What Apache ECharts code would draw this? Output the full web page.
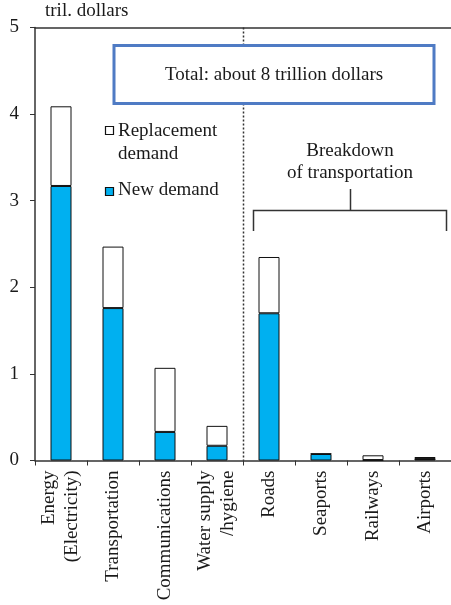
<!DOCTYPE html>
<html><head><meta charset="utf-8">
<script src="https://cdn.jsdelivr.net/npm/echarts@6/dist/echarts.min.js"></script>
<style>html,body{margin:0;padding:0;background:#fff}#c{width:451px;height:605px}</style>
</head><body><div id="c"></div>
<script>
var categories = ['Energy\n(Electricity)', 'Transportation', 'Communications', 'Water supply\n/hygiene', 'Roads', 'Seaports', 'Railways', 'Airports'];
var newDemand = [3.17, 1.76, 0.33, 0.17, 1.70, 0.075, 0.005, 0.03];
var replacementDemand = [0.92, 0.71, 0.74, 0.23, 0.65, 0.005, 0.055, 0.008];
var yTicks = [0, 1, 2, 3, 4, 5];
var unitLabel = 'tril. dollars';
var totalText = 'Total: about 8 trillion dollars';
var legendNew = 'New demand';
var legendRep = 'Replacement\ndemand';
var breakdownText = 'Breakdown\nof transportation';

var serif = '"Liberation Serif", "DejaVu Serif", serif';
var FS = 19;
var chart = echarts.init(document.getElementById('c'), null, {renderer: 'canvas'});
var newData = newDemand.map(function (v, i) {
  return i === 7 ? {value: v, itemStyle: {color: '#111'}} : v;
});
var option = {
  animation: false,
  grid: {left: 35, right: 0, top: 27.5, bottom: 144.5, containLabel: false},
  xAxis: [{
    type: 'category', data: categories, position: 'bottom',
    axisLine: {lineStyle: {color: '#333', width: 1.5}},
    axisTick: {show: true, alignWithLabel: false, length: 5, lineStyle: {color: '#333'}},
    axisLabel: {rotate: 90, interval: 0, margin: 10, color: '#1a1a1a', fontFamily: serif, fontSize: FS, lineHeight: 23, align: 'right', verticalAlign: 'middle'}
  }, {
    type: 'category', data: categories, position: 'top',
    axisLine: {lineStyle: {color: '#333', width: 1.5}},
    axisTick: {show: false}, axisLabel: {show: false}
  }],
  yAxis: {
    type: 'value', min: 0, max: 5, interval: 1,
    axisLine: {show: true, lineStyle: {color: '#333', width: 1.5}},
    axisTick: {show: true, length: 5, lineStyle: {color: '#333'}},
    splitLine: {show: false},
    axisLabel: {color: '#1a1a1a', fontFamily: serif, fontSize: FS, margin: 16, formatter: function(v){return yTicks.indexOf(v) >= 0 ? String(v) : '';}}
  },
  series: [{
    name: 'New demand', type: 'bar', stack: 'a', data: newData, barWidth: 21,
    itemStyle: {color: '#00B0F0', borderColor: '#111', borderWidth: 1}
  }, {
    name: 'Replacement demand', type: 'bar', stack: 'a', data: replacementDemand, barWidth: 21,
    itemStyle: {color: '#fff', borderColor: '#111', borderWidth: 1}
  }]
};
chart.setOption(option);

var x0 = chart.convertToPixel({xAxisIndex: 0}, 3);
var x1 = chart.convertToPixel({xAxisIndex: 0}, 4);
var divX = Math.round((x0 + x1) / 2) + 0.5;
var yTop = chart.convertToPixel({yAxisIndex: 0}, 5);
var yBot = chart.convertToPixel({yAxisIndex: 0}, 0);

chart.setOption({
  graphic: [
    {type: 'line', shape: {x1: divX, y1: yTop, x2: divX, y2: yBot}, style: {stroke: '#333', lineWidth: 1.5, lineDash: [2, 2]}, z: 1},
    {type: 'text', left: 45, top: 2, style: {text: unitLabel, font: FS + 'px ' + serif, fill: '#1a1a1a'}},
    {type: 'rect', shape: {x: 114, y: 45.5, width: 320, height: 58}, style: {fill: '#fff', stroke: '#4F7BC4', lineWidth: 3}, z: 10},
    {type: 'text', x: 274, y: 75, style: {text: totalText, font: FS + 'px ' + serif, fill: '#1a1a1a', align: 'center', verticalAlign: 'middle'}, z: 11},
    {type: 'rect', shape: {x: 105.5, y: 126.5, width: 8, height: 8}, style: {fill: '#fff', stroke: '#111', lineWidth: 1.2}},
    {type: 'text', x: 118, y: 120, style: {text: legendRep, font: FS + 'px ' + serif, fill: '#1a1a1a', lineHeight: 23, verticalAlign: 'top'}},
    {type: 'rect', shape: {x: 105.5, y: 187.5, width: 8, height: 8}, style: {fill: '#00B0F0', stroke: '#111', lineWidth: 1.2}},
    {type: 'text', x: 118, y: 181, style: {text: legendNew, font: FS + 'px ' + serif, fill: '#1a1a1a', verticalAlign: 'top'}},
    {type: 'text', x: 350, y: 162, style: {text: breakdownText, font: FS + 'px ' + serif, fill: '#1a1a1a', align: 'center', verticalAlign: 'middle', lineHeight: 22}},
    {type: 'polyline', shape: {points: [[253.5, 231], [253.5, 210.5], [446.5, 210.5], [446.5, 231]]}, style: {stroke: '#333', lineWidth: 1.5, fill: null}},
    {type: 'line', shape: {x1: 350.5, y1: 189, x2: 350.5, y2: 210.5}, style: {stroke: '#333', lineWidth: 1.5}}
  ]
});
</script>
</body></html>
